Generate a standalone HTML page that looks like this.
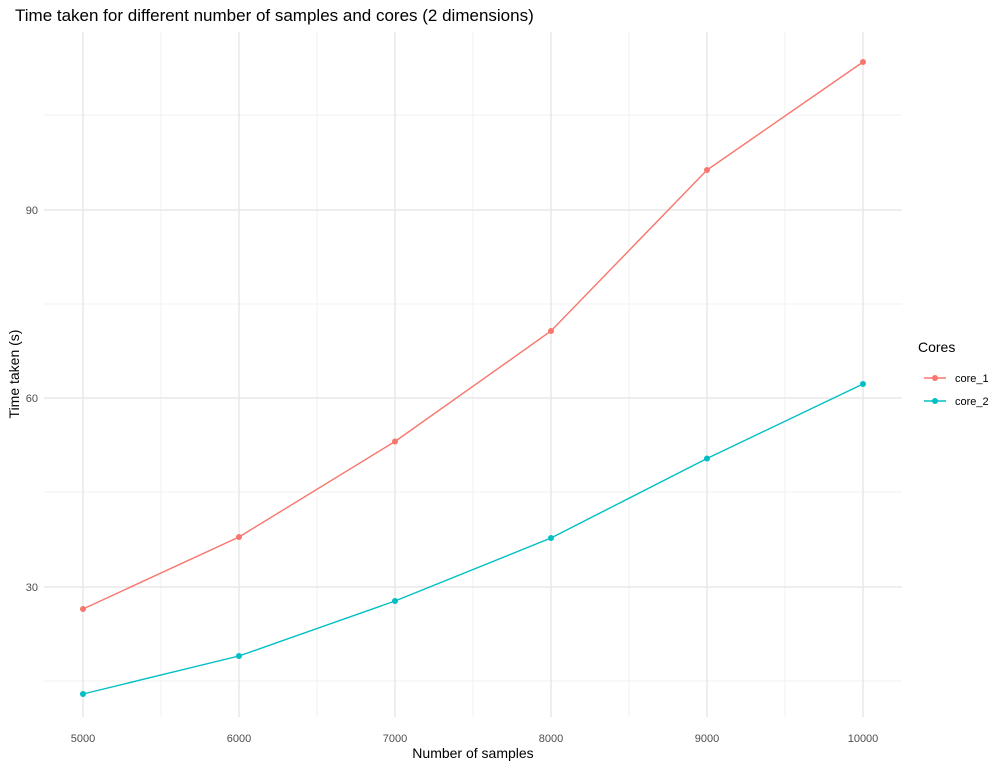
<!DOCTYPE html>
<html><head><meta charset="utf-8"><style>body{margin:0;background:#fff}svg{display:block}text{font-family:"Liberation Sans",sans-serif}</style></head><body>
<svg width="1005" height="768" xmlns="http://www.w3.org/2000/svg">
<rect width="1005" height="768" fill="#fff"/>
<g stroke="#f2f2f2" stroke-width="1">
<line x1="44" x2="902" y1="681" y2="681"/><line x1="44" x2="902" y1="492" y2="492"/><line x1="44" x2="902" y1="304" y2="304"/><line x1="44" x2="902" y1="115" y2="115"/>
<line x1="161" x2="161" y1="32" y2="717"/><line x1="317" x2="317" y1="32" y2="717"/><line x1="473" x2="473" y1="32" y2="717"/><line x1="629" x2="629" y1="32" y2="717"/><line x1="785" x2="785" y1="32" y2="717"/>
</g>
<g stroke="#e8e8e8" stroke-width="1.5">
<line x1="44" x2="902" y1="587" y2="587"/><line x1="44" x2="902" y1="398" y2="398"/><line x1="44" x2="902" y1="210" y2="210"/>
<line x1="83" x2="83" y1="32" y2="717"/><line x1="239" x2="239" y1="32" y2="717"/><line x1="395" x2="395" y1="32" y2="717"/><line x1="551" x2="551" y1="32" y2="717"/><line x1="707" x2="707" y1="32" y2="717"/><line x1="863" x2="863" y1="32" y2="717"/>
</g>
<polyline fill="none" stroke="#F8766D" stroke-width="1.4" points="83,609 239,537 395,441.5 551,331 707,170 863,62"/>
<polyline fill="none" stroke="#00BFC4" stroke-width="1.4" points="83,694 239,656 395,601 551,538 707,458.5 863,384"/>
<g fill="#F8766D"><circle cx="83" cy="609" r="3"/><circle cx="239" cy="537" r="3"/><circle cx="395" cy="441.5" r="3"/><circle cx="551" cy="331" r="3"/><circle cx="707" cy="170" r="3"/><circle cx="863" cy="62" r="3"/></g>
<g fill="#00BFC4"><circle cx="83" cy="694" r="3"/><circle cx="239" cy="656" r="3"/><circle cx="395" cy="601" r="3"/><circle cx="551" cy="538" r="3"/><circle cx="707" cy="458.5" r="3"/><circle cx="863" cy="384" r="3"/></g>
<g font-size="11" fill="#4d4d4d" text-anchor="middle">
<text x="83" y="742">5000</text><text x="239" y="742">6000</text><text x="395" y="742">7000</text><text x="551" y="742">8000</text><text x="707" y="742">9000</text><text x="863" y="742">10000</text>
</g>
<g font-size="11" fill="#4d4d4d" text-anchor="end">
<text x="38" y="591">30</text><text x="38" y="402">60</text><text x="38" y="214">90</text>
</g>
<text x="473" y="758" font-size="14" text-anchor="middle" fill="#000">Number of samples</text>
<text transform="translate(19,374) rotate(-90)" font-size="14" text-anchor="middle" fill="#000">Time taken (s)</text>
<text x="15" y="21" font-size="17" fill="#000">Time taken for different number of samples and cores (2 dimensions)</text>
<text x="918" y="352" font-size="14" fill="#000">Cores</text>
<line x1="924" x2="946" y1="378" y2="378" stroke="#F8766D" stroke-width="1.4"/><circle cx="935" cy="378" r="3" fill="#F8766D"/>
<line x1="924" x2="946" y1="401" y2="401" stroke="#00BFC4" stroke-width="1.4"/><circle cx="935" cy="401" r="3" fill="#00BFC4"/>
<text x="955" y="382" font-size="11" fill="#000">core_1</text>
<text x="955" y="405" font-size="11" fill="#000">core_2</text>
</svg>
</body></html>
